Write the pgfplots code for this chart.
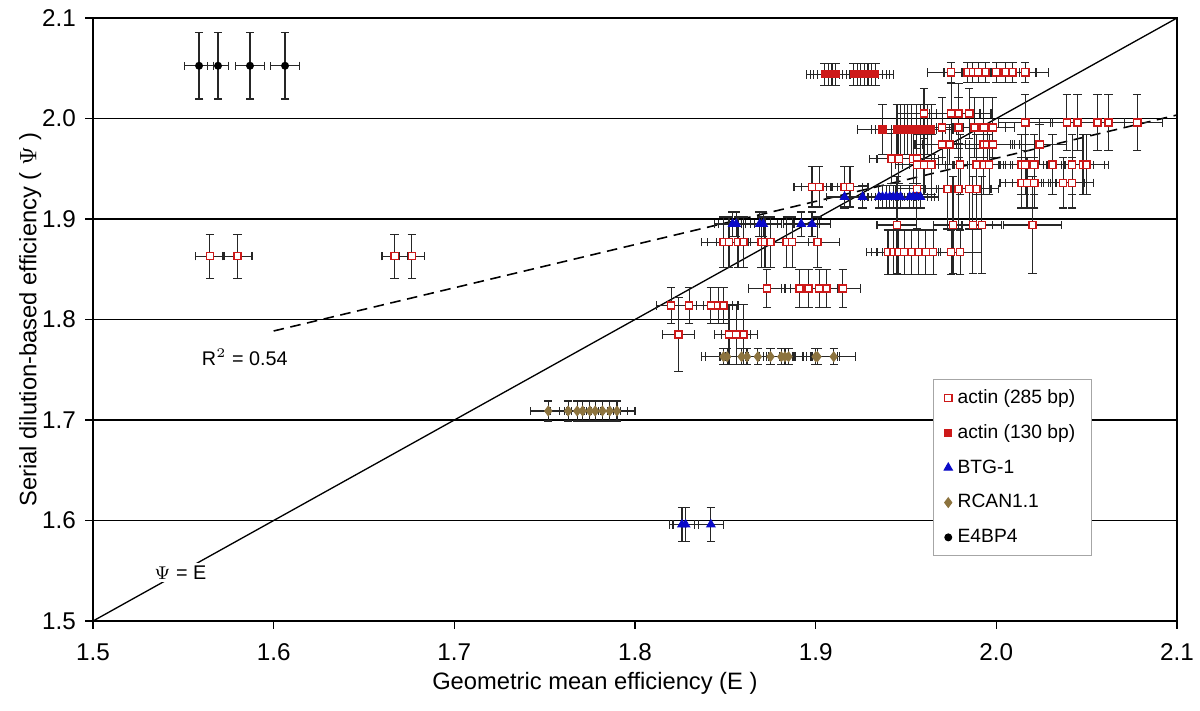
\documentclass[border=0pt]{standalone}
\usepackage{fontspec}
\setmainfont{Liberation Sans}
\setsansfont{Liberation Sans}
\usepackage{pgfplots}
\usepackage{pgfplotstable}
\pgfplotsset{compat=1.18}
\usetikzlibrary{calc}

\definecolor{actinred}{RGB}{205,25,25}
\definecolor{btgblue}{RGB}{10,10,200}
\definecolor{rcanbrown}{RGB}{140,115,62}

% columns: E, Psi, error in E, error in Psi
\pgfplotstableread{
x y ex ey
1.5647 1.863 0.008 0.022
1.5800 1.863 0.008 0.022
1.6670 1.863 0.007 0.022
1.6765 1.863 0.007 0.022
1.975 2.046 0.013 0.010
1.984 2.046 0.013 0.010
1.987 2.046 0.013 0.010
1.990 2.046 0.013 0.010
1.994 2.046 0.013 0.010
2.000 2.046 0.013 0.010
2.005 2.046 0.013 0.010
2.009 2.046 0.013 0.010
2.016 2.046 0.013 0.010
1.960 2.005 0.015 0.025
1.975 2.005 0.012 0.030
1.979 2.005 0.012 0.030
1.985 2.005 0.012 0.025
2.016 1.996 0.015 0.028
2.039 1.996 0.015 0.028
2.045 1.996 0.015 0.028
2.056 1.996 0.015 0.028
2.062 1.996 0.015 0.028
2.078 1.996 0.014 0.028
1.970 1.991 0.012 0.030
1.979 1.991 0.012 0.030
1.988 1.991 0.012 0.030
1.993 1.991 0.012 0.030
1.998 1.991 0.012 0.030
1.970 1.974 0.015 0.020
1.974 1.974 0.015 0.020
1.993 1.974 0.015 0.020
1.995 1.974 0.015 0.020
1.998 1.974 0.015 0.020
2.024 1.974 0.015 0.020
1.942 1.960 0.012 0.025
1.946 1.960 0.012 0.025
1.954 1.960 0.012 0.025
1.956 1.960 0.012 0.025
1.956 1.954 0.012 0.030
1.960 1.954 0.012 0.030
1.964 1.954 0.012 0.030
1.980 1.954 0.012 0.030
1.989 1.954 0.012 0.030
1.993 1.954 0.012 0.030
1.996 1.954 0.012 0.030
2.014 1.954 0.012 0.030
2.016 1.954 0.012 0.030
2.021 1.954 0.012 0.030
2.031 1.954 0.012 0.030
2.042 1.954 0.012 0.030
2.048 1.954 0.012 0.030
2.050 1.954 0.012 0.030
1.898 1.932 0.010 0.020
1.902 1.932 0.010 0.020
1.916 1.932 0.010 0.020
1.919 1.932 0.010 0.020
1.956 1.930 0.012 0.040
1.973 1.930 0.012 0.040
1.979 1.930 0.012 0.040
1.985 1.930 0.012 0.040
1.989 1.930 0.012 0.040
2.014 1.936 0.012 0.025
2.017 1.936 0.012 0.025
2.021 1.936 0.012 0.025
2.037 1.936 0.012 0.025
2.042 1.936 0.012 0.025
1.945 1.894 0.011 0.048
1.976 1.894 0.011 0.048
1.987 1.894 0.011 0.048
1.992 1.894 0.011 0.048
2.020 1.894 0.016 0.048
1.849 1.877 0.012 0.025
1.852 1.877 0.012 0.025
1.857 1.877 0.012 0.025
1.860 1.877 0.012 0.025
1.870 1.877 0.012 0.025
1.872 1.877 0.012 0.025
1.875 1.877 0.012 0.025
1.884 1.877 0.012 0.025
1.887 1.877 0.012 0.025
1.901 1.877 0.012 0.025
1.940 1.867 0.012 0.022
1.943 1.867 0.012 0.022
1.946 1.867 0.012 0.022
1.949 1.867 0.012 0.022
1.953 1.867 0.012 0.022
1.957 1.867 0.012 0.022
1.961 1.867 0.012 0.022
1.965 1.867 0.012 0.022
1.975 1.867 0.012 0.022
1.980 1.867 0.012 0.022
1.873 1.831 0.010 0.019
1.891 1.831 0.010 0.019
1.896 1.831 0.010 0.019
1.902 1.831 0.010 0.019
1.906 1.831 0.010 0.019
1.915 1.831 0.010 0.019
1.820 1.814 0.008 0.018
1.830 1.814 0.008 0.018
1.842 1.814 0.008 0.018
1.846 1.814 0.008 0.018
1.849 1.814 0.008 0.018
1.824 1.785 0.009 0.037
1.852 1.785 0.008 0.030
1.856 1.785 0.008 0.030
1.860 1.785 0.008 0.030
}\actinlong

\pgfplotstableread{
x y ex ey
1.905 2.044 0.010 0.011
1.907 2.044 0.010 0.011
1.909 2.044 0.010 0.011
1.911 2.044 0.010 0.011
1.921 2.044 0.010 0.011
1.923 2.044 0.010 0.011
1.925 2.044 0.010 0.011
1.927 2.044 0.010 0.011
1.929 2.044 0.010 0.011
1.931 2.044 0.010 0.011
1.933 2.044 0.010 0.011
1.937 1.989 0.014 0.025
1.945 1.989 0.014 0.025
1.947 1.989 0.014 0.025
1.949 1.989 0.014 0.025
1.951 1.989 0.014 0.025
1.953 1.989 0.014 0.025
1.956 1.989 0.014 0.025
1.958 1.989 0.014 0.025
1.960 1.989 0.014 0.025
1.962 1.989 0.014 0.025
1.964 1.989 0.014 0.025
}\actinshort

\pgfplotstableread{
x y ex ey
1.916 1.922 0.010 0.011
1.926 1.922 0.010 0.011
1.935 1.922 0.010 0.011
1.937 1.922 0.010 0.011
1.939 1.922 0.010 0.011
1.941 1.922 0.010 0.011
1.943 1.922 0.010 0.011
1.945 1.922 0.010 0.011
1.947 1.922 0.010 0.011
1.952 1.922 0.010 0.011
1.954 1.922 0.010 0.011
1.956 1.922 0.010 0.011
1.958 1.922 0.010 0.011
1.854 1.895 0.010 0.012
1.856 1.895 0.010 0.012
1.869 1.895 0.010 0.012
1.871 1.895 0.010 0.012
1.892 1.895 0.010 0.012
1.898 1.895 0.010 0.012
1.826 1.596 0.007 0.017
1.828 1.596 0.007 0.017
1.842 1.596 0.007 0.017
}\btg

\pgfplotstableread{
x y ex ey
1.849 1.763 0.012 0.008
1.851 1.763 0.012 0.008
1.859 1.763 0.012 0.008
1.862 1.763 0.012 0.008
1.868 1.763 0.012 0.008
1.875 1.763 0.012 0.008
1.881 1.763 0.012 0.008
1.883 1.763 0.012 0.008
1.885 1.763 0.012 0.008
1.900 1.763 0.012 0.008
1.901 1.763 0.012 0.008
1.910 1.763 0.012 0.008
1.752 1.709 0.010 0.010
1.763 1.709 0.010 0.010
1.768 1.709 0.010 0.010
1.771 1.709 0.010 0.010
1.775 1.709 0.010 0.010
1.778 1.709 0.010 0.010
1.782 1.709 0.010 0.010
1.786 1.709 0.010 0.010
1.790 1.709 0.010 0.010
}\rcan

\pgfplotstableread{
x y ex ey
1.5587 2.0525 0.008 0.033
1.5692 2.0525 0.006 0.033
1.5869 2.0525 0.008 0.033
1.6063 2.0525 0.008 0.033
}\ebp

\pgfplotsset{
  ebar/.style={only marks,
    error bars/x dir=both, error bars/x explicit,
    error bars/y dir=both, error bars/y explicit,
    error bars/error bar style={black!85, line width=0.45pt},
    error bars/error mark options={rotate=90, black!85, line width=0.45pt, mark size=1.6pt}},
}

\begin{document}
\begin{tikzpicture}
\begin{axis}[
  name=ax,
  scale only axis,
  width=14.453cm, height=8.04cm,
  xmin=1.5, xmax=2.1, ymin=1.5, ymax=2.1,
  xtick={1.5,1.6,1.7,1.8,1.9,2.0,2.1},
  xticklabels={1.5,1.6,1.7,1.8,1.9,2.0,2.1},
  ytick={1.5,1.6,1.7,1.8,1.9,2.0,2.1},
  yticklabels={1.5,1.6,1.7,1.8,1.9,2.0,2.1},
  tick pos=left,
  tick align=outside,
  major tick length=3pt,
  tick style={black, line width=0.5pt},
  ymajorgrids,
  grid style={black, line width=0.45pt},
  axis line style={black, line width=0.6pt},
  ticklabel style={font=\fontsize{9.2}{11}\selectfont},
  xticklabel style={yshift=-2pt},
  xlabel={Geometric mean efficiency (E )},
  ylabel={Serial dilution-based efficiency ( $\Psi$ )},
  every axis x label/.style={at={(axis description cs:0.463,-0.103)}, anchor=center, font=\fontsize{9}{11}\selectfont},
  every axis y label/.style={at={(axis description cs:-0.058,0.5)}, anchor=center, rotate=90, font=\fontsize{9}{11}\selectfont},
  legend style={at={(axis description cs:0.775,0.401)}, anchor=north west,
    draw=black!35, fill=white, font=\fontsize{7.3}{8}\selectfont,
    row sep=6.2pt, inner xsep=4pt, inner ysep=3.5pt,
    nodes={inner ysep=0pt, text height=5.5pt, text depth=1.5pt}},
  legend cell align=left,
]
\addplot[black, line width=0.5pt, forget plot] coordinates {(1.5,1.5) (2.1,2.1)};
\addplot[black, line width=0.6pt, dashed, dash pattern=on 4pt off 2.5pt, forget plot] coordinates {(1.6,1.7886) (2.1,2.0035)};

\addplot[ebar, mark=square*, mark size=1.35pt, mark options={draw=actinred, fill=white, line width=0.55pt}]
  table[x=x, y=y, x error=ex, y error=ey] {\actinlong};
\addplot[ebar, mark=square*, mark size=1.35pt, mark options={draw=actinred, fill=actinred}]
  table[x=x, y=y, x error=ex, y error=ey] {\actinshort};
\addplot[ebar, mark=triangle*, mark size=1.8pt, mark options={draw=btgblue, fill=btgblue}]
  table[x=x, y=y, x error=ex, y error=ey] {\btg};
\addplot[ebar, mark=diamond*, mark size=1.8pt, mark options={draw=rcanbrown, fill=rcanbrown}]
  table[x=x, y=y, x error=ex, y error=ey] {\rcan};
\addplot[ebar, mark=*, mark size=1.3pt, mark options={draw=black, fill=black}]
  table[x=x, y=y, x error=ex, y error=ey] {\ebp};

\legend{actin (285 bp), actin (130 bp), BTG-1, RCAN1.1, E4BP4}

\node[fill=white, inner sep=1pt, font=\fontsize{7.5}{9}\selectfont] at (axis cs:1.5484,1.548) {$\Psi$ = E};
\node[font=\fontsize{7.5}{9}\selectfont] at (axis cs:1.584,1.7627) {R$^2$ = 0.54};
\end{axis}
\pgfresetboundingbox
\path[use as bounding box] ($(ax.south west)+(-1.24cm,-1.187cm)$) rectangle ($(ax.south west)+(14.76cm,8.28cm)$);
\end{tikzpicture}
\end{document}
